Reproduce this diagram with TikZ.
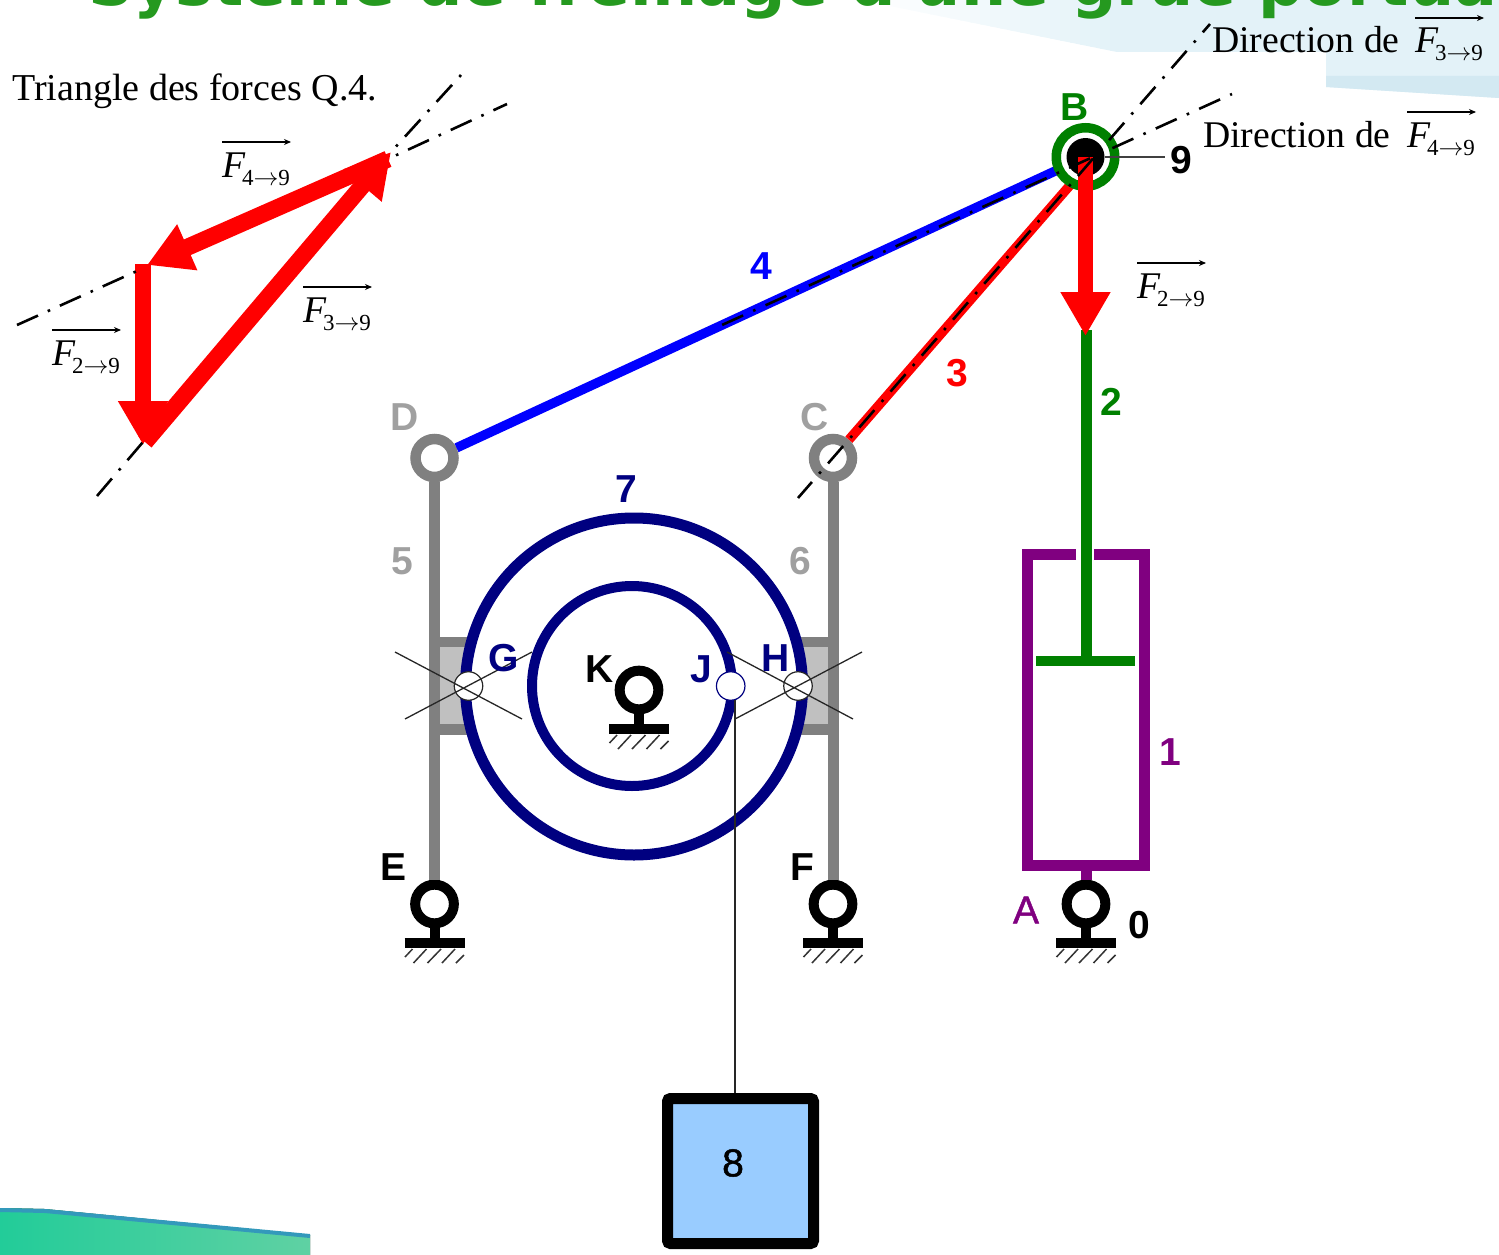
\documentclass[tikz,border=0pt]{standalone}
\usepackage{fontspec}
\setmainfont{Liberation Serif}
\newfontfamily\labfont{Liberation Sans}
\newfontfamily\labsemi[FakeBold=1.2]{Liberation Sans}
\newfontfamily\titlefont{DejaVu Sans}
\usetikzlibrary{arrows.meta}
\definecolor{cgreen}{HTML}{008000}
\definecolor{cnavy}{HTML}{000080}
\definecolor{cpurple}{HTML}{800080}
\definecolor{cgrey}{HTML}{808080}
\definecolor{clabgrey}{HTML}{A0A0A0}
\definecolor{cblock}{HTML}{C0C0C0}
\definecolor{ctitle}{HTML}{25991F}
\definecolor{cload}{HTML}{99CCFF}
\definecolor{cpale}{HTML}{E3F2F8}
\definecolor{cband}{HTML}{D3E9F2}
\definecolor{cteala}{HTML}{22CC99}
\definecolor{ctealb}{HTML}{5FD1A3}
\definecolor{cedge}{HTML}{3399BB}
\tikzset{
  x=1pt,y=-1pt,
  lab/.style={inner sep=0pt,font=\labfont\bfseries\fontsize{39}{39}\selectfont},
  labthin/.style={inner sep=0pt,font=\labsemi\fontsize{39}{39}\selectfont},
  serif/.style={inner sep=0pt,anchor=base west,font=\fontsize{37.7}{38}\selectfont},
  centre/.style={line width=2.6pt,black,dash pattern=on 23pt off 10.7pt on 2.6pt off 10.7pt},
  centrelong/.style={line width=2.6pt,black,dash pattern=on 23pt off 11pt on 2.6pt off 11pt},
  force/.style={line width=15.5pt,red,-{Triangle[length=44pt,width=47pt]}},
  forcetri/.style={line width=17pt,red,-{Triangle[length=44pt,width=47pt]}},
  thinline/.style={line width=1.3pt,black!85},
  hatch/.style={line width=1.5pt,black!80},
  pinring/.style={circle,draw=black,fill=white,line width=10pt,minimum size=38.7pt,inner sep=0pt},
  greyring/.style={circle,draw=cgrey,fill=white,line width=10.5pt,minimum size=38pt,inner sep=0pt},
  smallpin/.style={circle,draw=black!85,fill=white,line width=1.2pt,minimum size=28.5pt,inner sep=0pt},
  pics/fvec/.style={code={
    \node[serif] (-txt) at (0,0) {\textit{F}\kern-3.5pt\raisebox{-8pt}{\fontsize{23}{23}\selectfont #1$\rightarrow$9}};
    \draw[line width=1.4pt,black,-{Stealth[length=7pt,width=6pt]}] (0,-35) -- (69,-35);
  }}
}
\newcommand{\groundpin}[3]{%
  \begin{scope}[shift={(#2,#3)}]
    \draw[line width=10pt,black] (0,20) -- (0,39);
    \draw[line width=10pt,black] (-30,39) -- (30,39);
    \draw[hatch] (-29.5,53) -- (-22,45) (-21,59) -- (-8,45) (-7,59) -- (6.5,45) (7.5,59) -- (20.5,45) (21.5,59) -- (29.5,51);
    \node[pinring] (#1) at (0,0) {};
  \end{scope}}
\begin{document}
\begin{tikzpicture}
\useasboundingbox (0,0) rectangle (1499,1255);
\clip (0,0) rectangle (1499,1255);
% decorative background
\begin{scope}
  \clip (860,0) -- (1117,52) -- (1118,52) -- (1118,0) -- cycle;
  \foreach \i in {0,...,25} {
    \pgfmathsetmacro{\pct}{\i*4}
    \fill[cpale!\pct!white] ({860+\i*10},0) rectangle ({872+\i*10},60);
  }
\end{scope}
\fill[cpale] (1117,0) -- (1117,52) -- (1326,52) -- (1326,87) -- (1499,98) -- (1499,0) -- cycle;
\fill[cband] (1326,76) -- (1499,76) -- (1499,98) -- (1326,87) -- cycle;
\fill[left color=cteala,right color=ctealb] (0,1208) -- (45,1209) -- (310,1235) -- (310,1255) -- (0,1255) -- cycle;
\draw[line width=4pt,cedge] (0,1210) -- (45,1211) -- (310,1236);
\node[inner sep=0pt,anchor=base west,text=ctitle,font=\titlefont\bfseries\fontsize{63.5}{64}\selectfont] (title) at (88,6) {Système de freinage d'une grue portuaire};

% named points
\coordinate (pD) at (434.5,458);
\coordinate (pC) at (833,458);
\coordinate (pB) at (1085.5,157);
\coordinate (redEnd) at (1085,168);
\coordinate (tipB) at (1085.5,336);
\coordinate (rodTop) at (1086,330);
\coordinate (rodFoot) at (1086,661);
\coordinate (stemTop) at (1086,871);

% rods 5 and 6 with their blocks
\fill[cblock] (434,642) rectangle (480,730);
\fill[cblock] (788,642) rectangle (833,730);
\draw[line width=10.5pt,cgrey] (434,642) -- (480,642) (434,729.5) -- (480,729.5);
\draw[line width=10.5pt,cgrey] (788,642) -- (833,642) (788,729.5) -- (833,729.5);
\node[greyring] (D) at (pD) {};
\node[greyring] (C) at (pC) {};
\groundpin{E}{434.5}{904}
\groundpin{F}{833}{904}
\draw[line width=11pt,cgrey] (D) -- (E);
\draw[line width=11pt,cgrey] (C) -- (F);

% pulleys
\node[circle,draw=cnavy,fill=white,line width=11pt,minimum size=337pt,inner sep=0pt] (outer) at (634,686.5) {};
\node[circle,draw=cnavy,fill=white,line width=10pt,minimum size=200pt,inner sep=0pt] (inner) at (632,686) {};
\groundpin{K}{639}{690}

% links 3 and 4
\draw[line width=9.5pt,blue] (D) -- (pB);
\draw[line width=9.5pt,red] (C) -- (redEnd);

% jack
\draw[line width=11pt,cpurple,miter limit=10] (1076,554.5) -- (1027.5,554.5) -- (1027.5,865.5) -- (1144.5,865.5) -- (1144.5,554.5) -- (1094,554.5);
\draw[line width=11pt,cgreen] (rodTop) -- (rodFoot);
\draw[line width=10pt,cgreen] (1036,661) -- (1135,661);
\groundpin{A}{1086}{904}
\draw[line width=11pt,cpurple] (stemTop) -- (A);

% joint B
\node[circle,draw=cgreen,fill=white,line width=9.5pt,minimum size=58.5pt,inner sep=0pt] (ringB) at (pB) {};
\node[circle,fill=black,minimum size=38pt,inner sep=0pt] (discB) at (pB) {};
\coordinate (nine) at (1165,157);
\draw[line width=1.5pt,black!75] (discB) -- (nine);
\draw[force] (pB) -- (tipB);

% centre lines
\coordinate (c3a) at (1210,24);
\coordinate (c3b) at (798,498);
\coordinate (c4a) at (1232,94);
\coordinate (c4b) at (722,325);
\draw[centrelong,dash phase=12pt] (c3a) -- (c3b);
\draw[centrelong,dash phase=34.5pt] (c4a) -- (c4b);

% contact points
\node[smallpin] (G) at (468.5,686) {};
\node[smallpin] (H) at (798,686) {};
\node[smallpin,draw=cnavy] (J) at (730.7,686) {};
\draw[thinline] (395,652) -- (522,719) (405,719) -- (532,652);
\draw[thinline] (727,652) -- (853,719) (735,719) -- (862,652);

% load
\node[draw=black,fill=cload,line width=11pt,rounded corners=3pt,minimum width=146pt,minimum height=145pt,inner sep=0pt] (load) at (740.5,1171) {};
\coordinate (cable) at (735,700);
\draw[line width=1.3pt,black!85] (cable) -- (cable |- load.north);

% labels of the mechanism
\node[lab,text=cgreen] (lB) at (1075,107) {B};
\node[lab] (l9) at (1181,160) {9};
\node[lab,text=blue] (l4) at (761,266) {4};
\node[lab,text=red] (l3) at (957,373) {3};
\node[lab,text=cgreen] (l2) at (1111,402) {2};
\node[lab,text=cpurple] (l1) at (1170,752) {1};
\node[lab,text=clabgrey] (lD) at (405,417) {D};
\node[lab,text=clabgrey] (lC) at (815,417) {C};
\node[lab,text=clabgrey] (l5) at (402,561) {5};
\node[lab,text=clabgrey] (l6) at (800,561) {6};
\node[lab,text=cnavy] (l7) at (626,489) {7};
\node[lab,text=cnavy] (lG) at (504,658) {G};
\node[lab,text=cnavy] (lH) at (776,658) {H};
\node[lab] (lK) at (600,669) {K};
\node[lab,text=cnavy] (lJ) at (701,669) {J};
\node[lab] (lE) at (394,867) {E};
\node[lab] (lF) at (802,867) {F};
\node[labthin,text=cpurple] (lA) at (1026,910) {A};
\node[lab] (l0) at (1139,925) {0};
\node[labthin] (l8) at (733,1163) {8};

% force labels, mechanism
\node[serif] (dir3) at (1212,53) {Direction de};
\pic (f3) at (1415,53) {fvec=3};
\node[serif] (dir4) at (1203,147) {Direction de};
\pic (f4) at (1407,147) {fvec=4};
\pic (f2) at (1137,298) {fvec=2};

% triangle of forces
\node[serif,font=\fontsize{38}{38}\selectfont] (tri) at (12,100) {Triangle des forces Q.4.};
\coordinate (tP) at (391,152);
\coordinate (tL) at (147,265);
\coordinate (tLtop) at (143,264);
\coordinate (tR) at (143,445);
\coordinate (tRtail) at (145,442);
\coordinate (tPtail) at (388,159);
\draw[centre,dash phase=8pt] (507,104) -- (tPtail);
\draw[centre,dash phase=33.7pt] (461,75) -- (tP);
\draw[force] (tLtop) -- (tR);
\draw[forcetri] (tRtail) -- (tP);
\draw[forcetri] (tPtail) -- (tL);
\draw[centre] (17,325) -- (137,271);
\draw[centre] (97,496) -- (143,442);
\pic (t4) at (222,177) {fvec=4};
\pic (t3) at (303,322) {fvec=3};
\pic (t2) at (52,365) {fvec=2};
\end{tikzpicture}
\end{document}
